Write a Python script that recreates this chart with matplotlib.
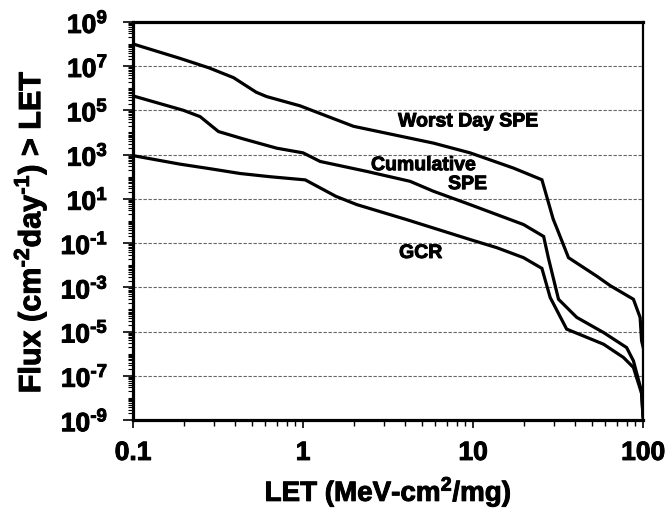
import numpy as np
import matplotlib
matplotlib.use("Agg")
import matplotlib.pyplot as plt
import matplotlib.patheffects as pe
from matplotlib.ticker import FixedLocator, NullFormatter

# --- данные ---
let_worst = [0.1, 0.19, 0.28, 0.39, 0.53, 0.61, 0.96, 1.98, 5.85, 9.6, 17.3, 25.4,
             29.6, 31, 36.4, 53.4, 64, 87.7, 96, 98, 100]
flux_worst = [1e8, 2.2e7, 8.3e6, 3e6, 6.6e5, 4.2e5, 1.6e5, 1.9e4, 3.3e3, 1.2e3, 245, 73,
              1.2, 0.5, 0.022, 3.2e-3, 1.2e-3, 2.9e-4, 4.4e-5, 3.8e-6, 2e-6]

let_cum = [0.1, 0.198, 0.248, 0.318, 0.446, 0.7, 1.0, 1.26, 2.37, 4.26, 5.85, 9.6,
           19.8, 26, 27.7, 31.8, 40.7, 58.5, 80, 87.7, 97.7, 100]
flux_cum = [4.5e5, 1e5, 5.2e4, 1.1e4, 5.1e3, 1.95e3, 1.2e3, 490, 174, 62, 22, 5.5,
            0.69, 0.2, 0.022, 2.9e-4, 4.4e-5, 9.1e-6, 1.9e-6, 4.8e-7, 2.1e-8, 1.5e-9]

let_gcr = [0.1, 0.189, 0.284, 0.426, 0.64, 1.03, 1.56, 2.07, 4.07, 9.6, 13.8, 19.8,
           25.4, 28.4, 35.5, 58.5, 76.6, 87.7, 98, 100]
flux_gcr = [900, 370, 230, 140, 100, 72, 13, 5.5, 1.15, 0.145, 0.062, 0.022,
            7.2e-3, 3.5e-4, 1.3e-5, 2.7e-6, 6.8e-7, 2.4e-7, 1.6e-8, 1.2e-9]

x_ticks = [0.1, 1, 10, 100]
x_labels = ["0.1", "1", "10", "100"]
y_exps = [9, 7, 5, 3, 1, -1, -3, -5, -7, -9]

# --- шрифты ---
plt.rcParams["font.family"] = ["Liberation Sans", "DejaVu Sans"]
plt.rcParams["font.weight"] = "bold"
plt.rcParams["mathtext.fontset"] = "custom"
plt.rcParams["mathtext.rm"] = "Liberation Sans:bold"
plt.rcParams["mathtext.bf"] = "Liberation Sans:bold"
plt.rcParams["mathtext.it"] = "Liberation Sans:bold"

heavy = [pe.withStroke(linewidth=0.7, foreground="black")]

fig = plt.figure(figsize=(6.72, 5.08), dpi=100)
ax = fig.add_axes([0.198, 0.173, 0.759, 0.784])

for xs, ys in [(let_worst, flux_worst), (let_cum, flux_cum), (let_gcr, flux_gcr)]:
    ax.plot(xs, ys, color="black", lw=2.3, solid_joinstyle="miter")

ax.set_xscale("log")
ax.set_yscale("log")
ax.set_xlim(0.1, 100)
ax.set_ylim(1e-9, 1e9)

# оси и подписи делений
ax.xaxis.set_major_locator(FixedLocator(x_ticks))
ax.set_xticklabels(x_labels)
ax.xaxis.set_minor_locator(FixedLocator(
    [m * 10.0**e for e in range(-1, 2) for m in range(2, 10)]))
ax.xaxis.set_minor_formatter(NullFormatter())

y_ticks = [10.0**e for e in y_exps]
ax.yaxis.set_major_locator(FixedLocator(y_ticks))
ax.set_yticklabels([r"$\mathbf{10^{\text{%d}}}$" % e for e in y_exps])
ax.yaxis.set_minor_locator(FixedLocator(
    [m * 10.0**e for e in range(-9, 9) for m in range(1, 10) if not (m == 1 and e % 2 == 1)]))
ax.yaxis.set_minor_formatter(NullFormatter())

ax.tick_params(axis="x", which="major", direction="out", length=6, width=1.2,
               labelsize=19, pad=9)
ax.tick_params(axis="x", which="minor", direction="out", length=4, width=1)
ax.tick_params(axis="y", which="major", direction="out", length=7, width=1.2,
               labelsize=19, pad=11)
ax.tick_params(axis="y", which="minor", direction="out", length=3.5, width=0.8)
for lab in ax.get_xticklabels() + ax.get_yticklabels():
    lab.set_path_effects(heavy)

for side in ["left", "bottom", "top"]:
    ax.spines[side].set_linewidth(2.3)
ax.spines["right"].set_linewidth(1.6)

ax.grid(True, axis="y", which="major", linestyle=(0, (3, 1.5)), color="#666666", lw=0.8)

fig.text(388 / 672, 1 - 492 / 508, r"LET (MeV-cm$^{\text{2}}$/mg)", fontsize=20,
         fontweight="bold", ha="center", va="center", path_effects=heavy)
fig.text(30 / 672, 1 - 232 / 508, r"Flux (cm$^{\text{-2}}$day$^{\text{-1}}$) > LET",
         fontsize=22, fontweight="bold", rotation=90, ha="center", va="center",
         path_effects=heavy)

# подписи кривых
ax.text(3.62, 3e4, "Worst Day SPE", fontsize=14, fontweight="bold", ha="left",
        va="center", path_effects=heavy)
ax.text(2.51, 316, "Cumulative", fontsize=14, fontweight="bold", ha="left",
        va="center", path_effects=heavy)
ax.text(7.13, 44, "SPE", fontsize=14, fontweight="bold", ha="left", va="center",
        path_effects=heavy)
ax.text(3.67, 0.034, "GCR", fontsize=14, fontweight="bold", ha="left", va="center",
        path_effects=heavy)

fig.savefig("out.png", dpi=100)
